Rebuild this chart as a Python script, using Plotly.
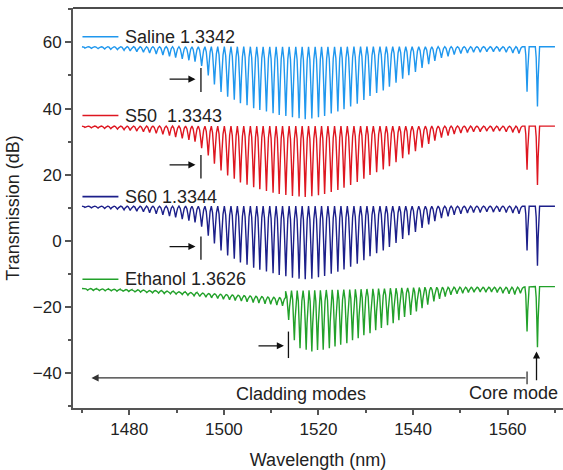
import plotly.graph_objects as go

# ---------------- data ----------------
# cladding-mode dip wavelengths (nm) shared by Saline / S50 / S60
clad_wl_s = [1470.6, 1472.0, 1473.4, 1474.8, 1476.1, 1477.5, 1478.9, 1480.2, 1481.6, 1483.0,
             1484.3, 1485.7, 1487.1, 1488.5, 1489.8, 1491.2, 1492.6, 1493.9,
             1495.3, 1496.7, 1498.0, 1499.4, 1500.8, 1502.2, 1503.5, 1504.9, 1506.3, 1507.6,
             1509.0, 1510.4, 1511.7, 1513.1, 1514.5, 1515.9, 1517.2, 1518.6, 1520.0, 1521.3,
             1522.7, 1524.1, 1525.4, 1526.8, 1528.2, 1529.6, 1530.9, 1532.3, 1533.7, 1535.0,
             1536.4, 1537.8, 1539.1, 1540.5, 1541.9, 1543.3, 1544.6, 1546.0, 1547.4, 1548.7,
             1550.1, 1551.5, 1552.8, 1554.2, 1555.6, 1557.0, 1558.3, 1559.7, 1561.1, 1562.4]
# cladding-mode dip wavelengths (nm) for Ethanol
clad_wl_eth = [1471.2, 1472.4, 1473.7, 1474.9, 1476.2, 1477.4, 1478.7, 1479.9, 1481.2, 1482.4,
               1483.7, 1484.9, 1486.2, 1487.4, 1488.7, 1489.9, 1491.2, 1492.4, 1493.7, 1494.9,
               1496.2, 1497.4, 1498.7, 1499.9, 1501.2, 1502.4, 1503.7, 1504.9, 1506.2, 1507.4,
               1508.7, 1509.9, 1511.2, 1512.4,
               1513.7, 1514.9, 1516.1, 1517.4, 1518.6, 1519.8, 1521.0, 1522.3, 1523.5, 1524.7,
               1526.0, 1527.2, 1528.4, 1529.6, 1530.9, 1532.1, 1533.3, 1534.6, 1535.8, 1537.0,
               1538.2, 1539.5, 1540.7, 1541.9, 1543.1, 1544.4, 1545.6, 1546.8, 1548.0, 1549.3,
               1550.5, 1551.7, 1552.9, 1554.2, 1555.4, 1556.6, 1557.8, 1559.0, 1560.3, 1561.5,
               1562.7]
core_wl = [1564.1, 1566.3]

saline_clad = [58.3, 58.2, 58.1, 58.0, 57.9, 57.8, 57.6, 57.4, 57.2, 57.0,
               56.8, 56.5, 56.2, 55.8, 55.4, 55.0, 54.6, 54.2,
               52.9, 50.0, 47.3, 45.0, 43.6, 42.7, 41.6, 41.0, 40.1, 39.6,
               39.1, 38.6, 38.1, 37.8, 37.4, 37.1, 36.8, 37.0, 37.4, 37.8,
               38.5, 39.1, 39.8, 40.6, 41.5, 42.6, 43.8, 44.7, 45.5, 46.6,
               47.8, 49.0, 50.1, 51.1, 52.3, 53.4, 54.4, 55.3, 55.8, 56.3,
               56.6, 56.8, 57.0, 57.0, 57.2, 57.2, 57.3, 57.0, 56.8, 56.6]
saline_core = [45.1, 40.6]
saline_top = 58.7

s50_clad = [34.3, 34.2, 34.1, 34.0, 33.9, 33.8, 33.6, 33.4, 33.2, 33.0,
            32.8, 32.5, 32.2, 31.8, 31.4, 31.0, 30.5, 30.0,
            28.0, 25.8, 23.3, 21.3, 19.8, 18.8, 17.7, 17.0, 16.2, 15.6,
            15.1, 14.6, 14.2, 13.9, 13.6, 13.4, 13.3, 13.5, 13.8, 14.2,
            14.8, 15.4, 16.1, 16.9, 17.8, 18.8, 19.9, 20.8, 21.6, 22.6,
            23.8, 25.0, 26.1, 27.1, 28.2, 29.3, 30.3, 31.2, 31.8, 32.3,
            32.6, 32.8, 33.0, 33.0, 33.2, 33.1, 33.2, 33.0, 32.8, 32.6]
s50_core = [21.5, 16.9]
s50_top = 34.7

s60_clad = [10.1, 10.0, 9.9, 9.8, 9.7, 9.6, 9.4, 9.2, 9.0, 8.8,
            8.5, 8.2, 7.9, 7.5, 7.1, 6.6, 6.1, 5.6,
            4.3, 1.6, -0.8, -2.9, -4.4, -5.4, -6.5, -7.2, -8.1, -8.7,
            -9.2, -9.8, -10.3, -10.7, -11.1, -11.4, -11.6, -11.4, -11.0, -10.6,
            -9.9, -9.3, -8.6, -7.8, -6.9, -5.8, -4.6, -3.7, -2.9, -1.8,
            -0.6, 0.6, 1.7, 2.7, 3.9, 5.0, 6.0, 6.9, 7.4, 7.9,
            8.2, 8.4, 8.6, 8.6, 8.8, 8.7, 8.8, 8.6, 8.4, 8.2]
s60_core = [-2.9, -7.5]
s60_top = 10.5

eth_clad = [-14.9, -15.0, -15.0, -15.1, -15.1, -15.2, -15.2, -15.3, -15.4, -15.5,
            -15.6, -15.7, -15.8, -15.9, -16.0, -16.1, -16.2, -16.4, -16.6, -16.8,
            -17.0, -17.2, -17.4, -17.6, -17.8, -18.0, -18.2, -18.4, -18.6, -18.8,
            -19.0, -19.2, -19.4, -19.6,
            -23.9, -30.0, -32.4, -32.9, -33.4, -33.0, -32.9, -32.4, -31.9, -31.4,
            -30.9, -30.0, -29.4, -28.5, -27.9, -27.0, -26.3, -25.5, -24.9, -24.0,
            -23.0, -22.4, -21.3, -20.3, -19.3, -18.3, -17.5, -16.8, -16.3, -16.0,
            -15.8, -15.6, -15.5, -15.4, -15.5, -15.4, -15.6, -15.8, -16.0, -16.2,
            -15.8]
eth_core = [-27.4, -32.1]
eth_top = [-14.4, -14.4, -14.5, -14.5, -14.6, -14.6, -14.7, -14.7, -14.8, -14.8,
           -14.9, -15.0, -15.0, -15.1, -15.2, -15.3, -15.4, -15.5, -15.6, -15.7,
           -15.8, -15.9, -16.0, -16.1, -16.2, -16.3, -16.4, -16.5, -16.6, -16.7,
           -16.8, -16.9, -17.0, -17.1,
           -15.2, -15.0, -15.0, -15.0, -14.9, -14.9, -14.9, -14.8, -14.8, -14.8,
           -14.7, -14.7, -14.6, -14.6, -14.5, -14.5, -14.4, -14.4, -14.3, -14.3,
           -14.2, -14.2, -14.1, -14.1, -14.0, -14.0, -14.0, -14.0, -14.0, -14.0,
           -14.0, -14.0, -14.0, -14.0, -14.0, -14.0, -14.0, -14.0, -14.0, -14.0,
           -14.0, -13.9, -13.8]

series_names = ["Saline 1.3342", "S50  1.3343", "S60 1.3344", "Ethanol 1.3626"]
series_colors = ["#1f97ee", "#de1620", "#1c1f8a", "#22a12a"]
legend_y = [61.7, 37.9, 13.4, -11.6]
marker_x = [1495.15, 1495.15, 1495.15, 1513.65]
marker_arrow = [(1488.2, 1494.0, 48.9), (1488.2, 1494.0, 23.0),
                (1488.2, 1494.0, -1.7), (1507.0, 1512.7, -31.7)]
marker_bar = [(45.0, 52.3), (18.9, 26.0), (-5.7, 1.3), (-35.4, -27.4)]

X_START, X_END = 1470.0, 1570.0
# dip profile: (fraction of half-width from the dip centre, fraction of depth)
PROFILE = [(1.0, 0.0), (0.6, 0.18), (0.3, 0.55)]


def build(dip_wl, dip_db, top, n_clad):
    n = len(dip_wl)
    tops = top if isinstance(top, list) else [top] * n
    xs, ys = [X_START], [tops[0]]
    for i in range(n):
        w, d, t = dip_wl[i], dip_db[i], tops[min(i, len(tops) - 1)]
        cap = 0.7 if i < n_clad else 0.45
        left = w - (dip_wl[i - 1] if i > 0 else X_START)
        right = (dip_wl[i + 1] if i < n - 1 else X_END) - w
        hl, hr = min(left / 2, cap), min(right / 2, cap)
        depth = t - d
        for f, g in PROFILE:
            xs.append(w - f * hl)
            ys.append(t - g * depth)
        xs.append(w)
        ys.append(d)
        for f, g in reversed(PROFILE):
            xs.append(w + f * hr)
            ys.append(t - g * depth)
    xs.append(X_END)
    ys.append(tops[-1])
    return xs, ys


traces = [
    build(clad_wl_s + core_wl, saline_clad + saline_core, saline_top, len(clad_wl_s)),
    build(clad_wl_s + core_wl, s50_clad + s50_core, s50_top, len(clad_wl_s)),
    build(clad_wl_s + core_wl, s60_clad + s60_core, s60_top, len(clad_wl_s)),
    build(clad_wl_eth + core_wl, eth_clad + eth_core, eth_top, len(clad_wl_eth)),
]

FONT = "Liberation Sans, Arial, sans-serif"
fig = go.Figure()
for (xs, ys), name, col in zip(traces, series_names, series_colors):
    fig.add_trace(go.Scatter(x=xs, y=ys, mode="lines", name=name,
                             line=dict(color=col, width=1.4), showlegend=False))

shapes, annos = [], []
for name, col, ly in zip(series_names, series_colors, legend_y):
    shapes.append(dict(type="line", xref="x", yref="y", x0=1470.1, x1=1477.7,
                       y0=ly, y1=ly, line=dict(color=col, width=1.6)))
    annos.append(dict(x=1478.7, y=ly, xref="x", yref="y", text=name, showarrow=False,
                      xanchor="left", yanchor="middle",
                      font=dict(family=FONT, size=18, color="#222")))
for mx, (ax0, ax1, ay), (b0, b1) in zip(marker_x, marker_arrow, marker_bar):
    shapes.append(dict(type="line", xref="x", yref="y", x0=mx, x1=mx, y0=b0, y1=b1,
                       line=dict(color="#111", width=1.3)))
    annos.append(dict(x=ax1, y=ay, ax=ax0, ay=ay, xref="x", yref="y", axref="x", ayref="y",
                      text="", showarrow=True, arrowhead=2, arrowsize=1.1, arrowwidth=1.3,
                      arrowcolor="#111"))

# cladding / core mode annotations
shapes.append(dict(type="line", xref="x", yref="y", x0=1564.1, x1=1564.1, y0=-43.3, y1=-39.5,
                   line=dict(color="#333", width=1.3)))
annos.append(dict(x=1472.0, y=-41.4, ax=1564.1, ay=-41.4, xref="x", yref="y", axref="x",
                  ayref="y", text="", showarrow=True, arrowhead=2, arrowsize=1.1,
                  arrowwidth=1.3, arrowcolor="#333"))
annos.append(dict(x=1566.1, y=-33.4, ax=1566.1, ay=-42.6, xref="x", yref="y", axref="x",
                  ayref="y", text="", showarrow=True, arrowhead=2, arrowsize=1.1,
                  arrowwidth=1.3, arrowcolor="#111"))
annos.append(dict(x=1516.4, y=-46.4, xref="x", yref="y", text="Cladding modes", showarrow=False,
                  font=dict(family=FONT, size=18, color="#222")))
annos.append(dict(x=1561.2, y=-46.0, xref="x", yref="y", text="Core mode", showarrow=False,
                  font=dict(family=FONT, size=18, color="#222")))
# top frame line
shapes.append(dict(type="line", xref="paper", yref="paper", x0=0, x1=1, y0=1, y1=1,
                   line=dict(color="#111", width=1.6)))

fig.update_layout(
    width=563, height=470,
    margin=dict(l=73, r=0, t=8, b=62),
    paper_bgcolor="white", plot_bgcolor="white",
    font=dict(family=FONT, size=17, color="#222"),
    shapes=shapes, annotations=annos,
)
fig.update_xaxes(range=[1468.1, 1571.7], dtick=20, tick0=1480, ticks="outside", ticklen=5,
                 tickwidth=1.5, tickcolor="#555", showline=True, linecolor="#555",
                 linewidth=2, showgrid=False, zeroline=False,
                 minor=dict(dtick=10, ticks="outside", ticklen=3, tickwidth=1.5,
                            tickcolor="#555"),
                 title=dict(text="Wavelength (nm)", font=dict(size=18)),
                 tickfont=dict(size=17))
fig.update_yaxes(range=[-50.5, 70.4], dtick=20, tick0=0, ticks="outside", ticklen=6,
                 tickwidth=1.5, tickcolor="#555", showline=True, linecolor="#555",
                 linewidth=2, showgrid=False, zeroline=False,
                 minor=dict(dtick=10, ticks="outside", ticklen=3, tickwidth=1.5,
                            tickcolor="#555"),
                 title=dict(text="Transmission (dB)", font=dict(size=18), standoff=8),
                 tickfont=dict(size=17))

fig.write_html("out.html")
